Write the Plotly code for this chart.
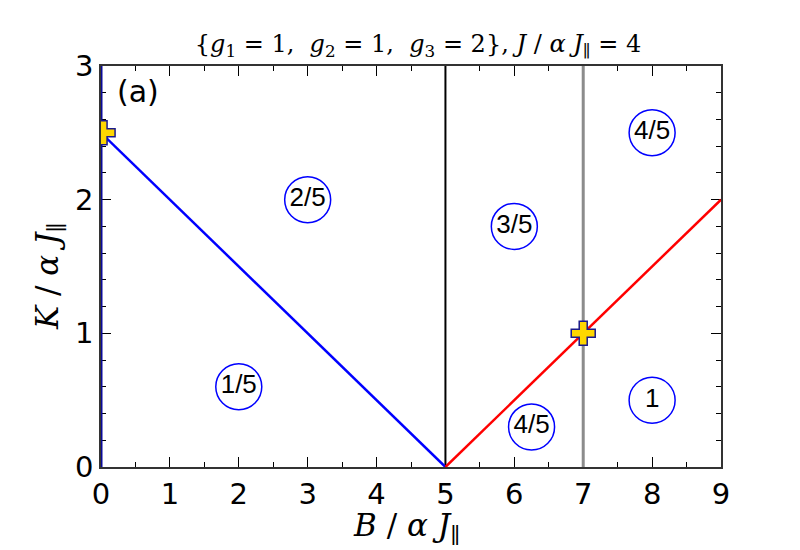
import plotly.graph_objects as go

# boundary lines
blue_x = [0, 5]
blue_y = [2.5, 0]
red_x = [5, 9]
red_y = [0, 2]
blue_v_x = [0, 0]
blue_v_y = [0, 3]
black_v_x = [5, 5]
black_v_y = [0, 3]
gray_v_x = [7, 7]
gray_v_y = [0, 3]

# special points (crosses)
cross_x = [0.03, 7]
cross_y = [2.5, 1]

# region labels
label_x = [2, 3, 6, 8, 6.25, 8]
label_y = [0.6, 2.0, 1.8, 2.5, 0.3, 0.5]
label_text = ["1/5", "2/5", "3/5", "4/5", "4/5", "1"]

x_ticks = list(range(0, 10))
y_ticks = [0, 1, 2, 3]

fig = go.Figure()
fig.add_trace(go.Scatter(x=blue_v_x, y=blue_v_y, mode="lines",
                         line=dict(color="#0a0a9a", width=3), cliponaxis=False))
fig.add_trace(go.Scatter(x=black_v_x, y=black_v_y, mode="lines",
                         line=dict(color="black", width=2)))
fig.add_trace(go.Scatter(x=gray_v_x, y=gray_v_y, mode="lines",
                         line=dict(color="#8c8c8c", width=3)))
fig.add_trace(go.Scatter(x=blue_x, y=blue_y, mode="lines",
                         line=dict(color="#0000ff", width=2.5)))
fig.add_trace(go.Scatter(x=red_x, y=red_y, mode="lines",
                         line=dict(color="#ff0000", width=2.5)))
fig.add_trace(go.Scatter(x=label_x, y=label_y, mode="markers+text",
                         text=label_text, textposition="middle center",
                         textfont=dict(family="Liberation Sans, Arial", size=26, color="black"),
                         marker=dict(symbol="circle-open", size=46,
                                     line=dict(color="#0000ff", width=1.5), color="#0000ff")))
fig.add_trace(go.Scatter(x=cross_x, y=cross_y, mode="markers",
                         marker=dict(symbol="cross", size=20, color="#ffd700",
                                     line=dict(color="#1a1a8c", width=1.5))))

fig.add_annotation(x=0.022, y=0.985, xref="paper", yref="paper", text="(a)",
                   showarrow=False, xanchor="left", yanchor="top",
                   font=dict(family="DejaVu Sans", size=30, color="black"))

# axis titles
fig.add_annotation(x=0.4935, y=-0.15, xref="paper", yref="paper",
                   text="<i>B</i> / <i>α J</i><sub>∥</sub>", showarrow=False,
                   xanchor="center", yanchor="middle",
                   font=dict(family="DejaVu Serif", size=31, color="black"))
fig.add_annotation(x=-0.084, y=0.476, xref="paper", yref="paper",
                   text="<i>K</i> / <i>α J</i><sub>∥</sub>", showarrow=False,
                   xanchor="center", yanchor="middle", textangle=-90,
                   font=dict(family="DejaVu Serif", size=31, color="black"))

axis_common = dict(
    showgrid=False, zeroline=False, showline=True, mirror="allticks",
    linecolor="#333333", linewidth=1.5, ticks="inside", ticklen=10, tickwidth=1.2,
    tickcolor="black", tickfont=dict(family="DejaVu Sans", size=29, color="black"),
    layer="below traces",
)

fig.update_layout(
    width=800, height=550,
    margin=dict(l=93, r=87, t=58, b=91),
    plot_bgcolor="white", paper_bgcolor="white",
    showlegend=False,
    title=dict(
        text="{<i>g</i><sub>1</sub> = 1,  <i>g</i><sub>2</sub> = 1,  <i>g</i><sub>3</sub> = 2}, "
             "<i>J</i> / <i>α J</i><sub>∥</sub> = 4",
        x=0.5125, xanchor="center", y=0.935, yanchor="middle",
        font=dict(family="DejaVu Serif", size=24, color="black"),
    ),
    xaxis=dict(range=[0, 9], tickvals=x_ticks, ticktext=[str(v) for v in x_ticks],
               minor=dict(dtick=0.5, ticks="inside", ticklen=5, tickcolor="black"),
               **axis_common),
    yaxis=dict(range=[0, 3], tickvals=y_ticks, ticktext=[str(v) for v in y_ticks],
               minor=dict(dtick=0.2, ticks="inside", ticklen=5, tickcolor="black"),
               **axis_common),
)

fig.write_html("out.html")
